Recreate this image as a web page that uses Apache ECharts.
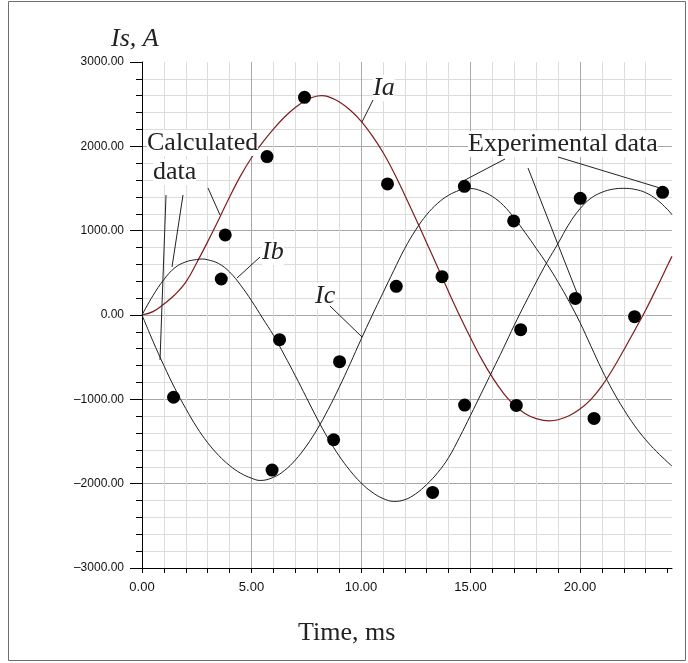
<!DOCTYPE html>
<html>
<head>
<meta charset="utf-8">
<title>Is, A</title>
<script src="https://cdn.jsdelivr.net/npm/echarts@6/dist/echarts.min.js"></script>
<style>
  html, body { margin: 0; padding: 0; background: #fff; }
  #chart { width: 688px; height: 663px; }
</style>
</head>
<body>
<div id="chart"></div>
<script>
// calculated currents (A) vs time (ms)
var tIa = [0, 0.5, 1, 1.5, 2, 2.5, 3, 3.5, 4, 4.5, 5, 5.5, 6, 6.5, 7, 7.5, 8, 8.2, 8.5, 9, 9.5, 10, 10.5, 11, 11.5, 12, 12.5, 13, 13.5, 14, 14.5, 15, 15.5, 16, 16.5, 17, 17.5, 18, 18.6, 19, 19.5, 20, 20.5, 21, 21.5, 22, 22.5, 23, 23.5, 24, 24.2];
var iaCalc = [0, 40, 130, 240, 390, 620, 870, 1130, 1400, 1650, 1865, 2045, 2205, 2345, 2460, 2550, 2597, 2602, 2590, 2528, 2430, 2300, 2130, 1930, 1690, 1420, 1140, 855, 565, 275, -5, -270, -520, -740, -925, -1070, -1170, -1228, -1255, -1242, -1195, -1115, -1000, -840, -640, -415, -180, 60, 320, 590, 695];

var tIb = [0, 0.5, 1, 1.5, 2, 2.5, 2.75, 3, 3.5, 4, 4.5, 5, 5.5, 6, 6.5, 7, 7.5, 8, 8.5, 9, 9.5, 10, 10.5, 11, 11.5, 12, 12.5, 13, 13.5, 14, 14.5, 15, 15.5, 16, 16.5, 17, 17.5, 18, 18.5, 19, 19.5, 20, 20.5, 21, 21.5, 22, 22.5, 23, 23.5, 24, 24.2];
var ibCalc = [0, 230, 420, 560, 630, 658, 664, 655, 610, 510, 355, 170, -35, -240, -475, -720, -975, -1230, -1465, -1670, -1845, -1990, -2100, -2175, -2210, -2190, -2120, -2010, -1870, -1690, -1450, -1190, -925, -660, -395, -120, 140, 390, 630, 850, 1080, 1260, 1385, 1455, 1492, 1502, 1490, 1450, 1370, 1250, 1190];

var tIc = [0, 0.5, 1, 1.5, 2, 2.5, 3, 3.5, 4, 4.5, 5, 5.4, 6, 6.5, 7, 7.5, 8, 8.5, 9, 9.5, 10, 10.5, 11, 11.5, 12, 12.5, 13, 13.5, 14, 14.5, 14.8, 15, 15.5, 16, 16.5, 17, 17.5, 18, 18.5, 19, 19.5, 20, 20.5, 21, 21.5, 22, 22.5, 23, 23.5, 24, 24.2];
var icCalc = [0, -310, -600, -870, -1110, -1330, -1515, -1665, -1785, -1875, -1935, -1962, -1925, -1845, -1720, -1555, -1355, -1120, -860, -580, -290, -10, 260, 530, 790, 1010, 1190, 1325, 1420, 1480, 1500, 1500, 1470, 1405, 1300, 1150, 975, 790, 600, 390, 160, -90, -370, -650, -900, -1120, -1315, -1480, -1620, -1745, -1790];

// experimental points
var tExp = [1.44, 3.62, 3.80, 5.71, 5.94, 6.28, 7.42, 8.75, 9.02, 11.21, 11.61, 13.27, 13.70, 14.72, 14.73, 16.97, 17.09, 17.29, 19.79, 20.01, 20.64, 22.49, 23.77];
var iExp = [-975, 427, 949, 1878, -1839, -293, 2581, -1479, -554, 1554, 340, -2104, 454, 1526, -1068, 1115, -1072, -174, 197, 1384, -1226, -20, 1455];

// axis ticks / labels
var xTicks = [0, 1, 2, 3, 4, 5, 6, 7, 8, 9, 10, 11, 12, 13, 14, 15, 16, 17, 18, 19, 20, 21, 22, 23, 24];
var xLabels = [0, 5, 10, 15, 20];

function pairs(xs, ys) {
  var out = [];
  for (var i = 0; i < xs.length; i++) out.push([xs[i], ys[i]]);
  return out;
}

var serif = '"Liberation Serif", "DejaVu Serif", serif';
var sans = '"Liberation Sans", Arial, sans-serif';
var minor = '#dcdcdc';
var major = '#a8a8a8';

function label(text, x, baseline, italic) {
  return {
    type: 'text',
    z: 100,
    style: {
      text: text,
      x: x,
      y: baseline - 9,
      verticalAlign: 'middle',
      font: (italic ? 'italic ' : '') + '26px ' + serif,
      fill: '#222',
      backgroundColor: '#fff'
    }
  };
}

function leader(x1, y1, x2, y2) {
  return {
    type: 'line',
    z: 100,
    shape: { x1: x1, y1: y1, x2: x2, y2: y2 },
    style: { stroke: '#222', lineWidth: 1 }
  };
}

var myChart = echarts.init(document.getElementById('chart'));

myChart.setOption({
  animation: false,
  backgroundColor: '#fff',
  grid: { left: 142, right: 16, top: 62, bottom: 95 },
  xAxis: {
    type: 'value',
    min: 0,
    max: 24.2,
    interval: 1,
    axisLine: { onZero: false, lineStyle: { color: '#000', width: 1 } },
    axisTick: { show: true, length: 5, customValues: xTicks, lineStyle: { color: '#000' } },
    axisLabel: {
      customValues: xLabels,
      margin: 13,
      color: '#111',
      fontFamily: sans,
      fontSize: 13,
      formatter: function (v) { return v.toFixed(2); }
    },
    splitLine: {
      show: true,
      showMaxLine: false,
      lineStyle: { color: [major, minor, minor, minor, minor], width: 1 }
    }
  },
  yAxis: {
    type: 'value',
    min: -3000,
    max: 3000,
    interval: 1000,
    axisLine: { show: true, onZero: false, lineStyle: { color: '#000', width: 1 } },
    axisTick: { show: true, length: 12, lineStyle: { color: '#000' } },
    minorTick: { show: true, splitNumber: 5, length: 6, lineStyle: { color: '#000' } },
    axisLabel: {
      margin: 18,
      color: '#111',
      fontFamily: sans,
      fontSize: 12,
      formatter: function (v) { return v.toFixed(2).replace('-', '\u2013'); }
    },
    splitLine: { show: true, showMaxLine: false, lineStyle: { color: major } },
    minorSplitLine: { show: true, lineStyle: { color: minor } }
  },
  series: [
    {
      name: 'Ia',
      type: 'line',
      smooth: 0.4,
      symbol: 'none',
      data: pairs(tIa, iaCalc),
      lineStyle: { color: '#7f1d1d', width: 1.2 }
    },
    {
      name: 'Ib',
      type: 'line',
      smooth: 0.4,
      symbol: 'none',
      data: pairs(tIb, ibCalc),
      lineStyle: { color: '#1e1e1e', width: 1 }
    },
    {
      name: 'Ic',
      type: 'line',
      smooth: 0.4,
      symbol: 'none',
      data: pairs(tIc, icCalc),
      lineStyle: { color: '#1e1e1e', width: 1 }
    },
    {
      name: 'Experimental data',
      type: 'scatter',
      symbol: 'circle',
      symbolSize: 13,
      data: pairs(tExp, iExp),
      itemStyle: { color: '#000', opacity: 1 },
      z: 5
    }
  ],
  graphic: [
    // outer frame
    {
      type: 'rect',
      z: 100,
      shape: { x: 8.5, y: 1.5, width: 677, height: 659 },
      style: { fill: 'none', stroke: '#6e6e6e', lineWidth: 1 }
    },
    label('Is, A', 111, 48, true),
    label('Calculated', 147, 152, false),
    label('data', 153, 181, false),
    label('Experimental data', 468, 153, false),
    label('Ia', 373, 97, true),
    label('Ib', 262, 261, true),
    label('Ic', 315, 305, true),
    label('Time, ms', 298, 642, false),
    leader(373, 100, 362, 122),
    leader(260, 257, 237, 278),
    leader(330, 306, 362, 337),
    leader(208, 188, 220, 215),
    leader(183, 195, 172, 267),
    leader(166, 195, 160, 360),
    leader(505, 159, 465, 180),
    leader(528, 168, 577, 293),
    leader(558, 157, 660, 188)
  ]
});
</script>
</body>
</html>
